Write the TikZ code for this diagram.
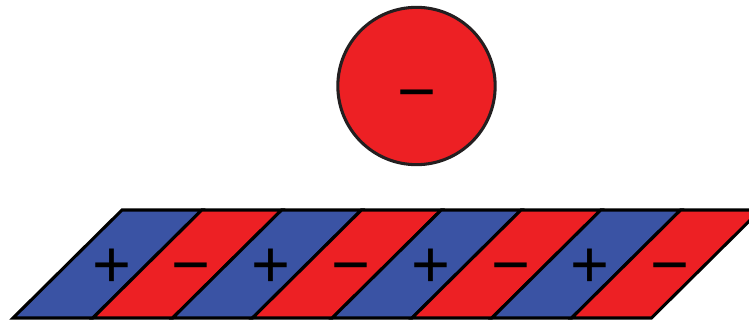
\documentclass[tikz,border=0pt]{standalone}
\usepackage{fontspec}
\setmainfont{Liberation Sans}
\definecolor{stripblue}{RGB}{58,83,164}
\definecolor{stripred}{RGB}{237,32,36}
\definecolor{rimgray}{RGB}{35,31,32}

\begin{document}
\begin{tikzpicture}[
    x=0.75pt, y=-0.75pt,
    strip/.style={draw=black, line width=2.3pt, line join=miter},
    charge/.style={inner sep=0pt, anchor=base, font=\fontsize{50}{50}\selectfont},
    ball/.style={circle, draw=rimgray, fill=stripred, line width=2.3pt, minimum size=118pt, inner sep=0pt}
]
\useasboundingbox (0,0) rectangle (749,321);
\clip (0,0) rectangle (749,321);

% charged sphere
\node[ball] (ball) at (416.5,86) {};
\node[charge] (ballsign) at (416.5,114) {−};

% striped surface
\foreach \i in {0,...,7} {
  \pgfmathsetmacro{\xb}{13+79.8*\i}
  \ifodd\i
    \def\stripcol{stripred}\def\sign{−}
  \else
    \def\stripcol{stripblue}\def\sign{+}
  \fi
  \draw[strip, fill=\stripcol] (\xb,318) -- ++(109,-108) -- ++(79.8,0) -- ++(-109,108) -- cycle;
  \node[charge] (sign\i) at (\xb+98.5,287) {\sign};
}

\end{tikzpicture}
\end{document}
